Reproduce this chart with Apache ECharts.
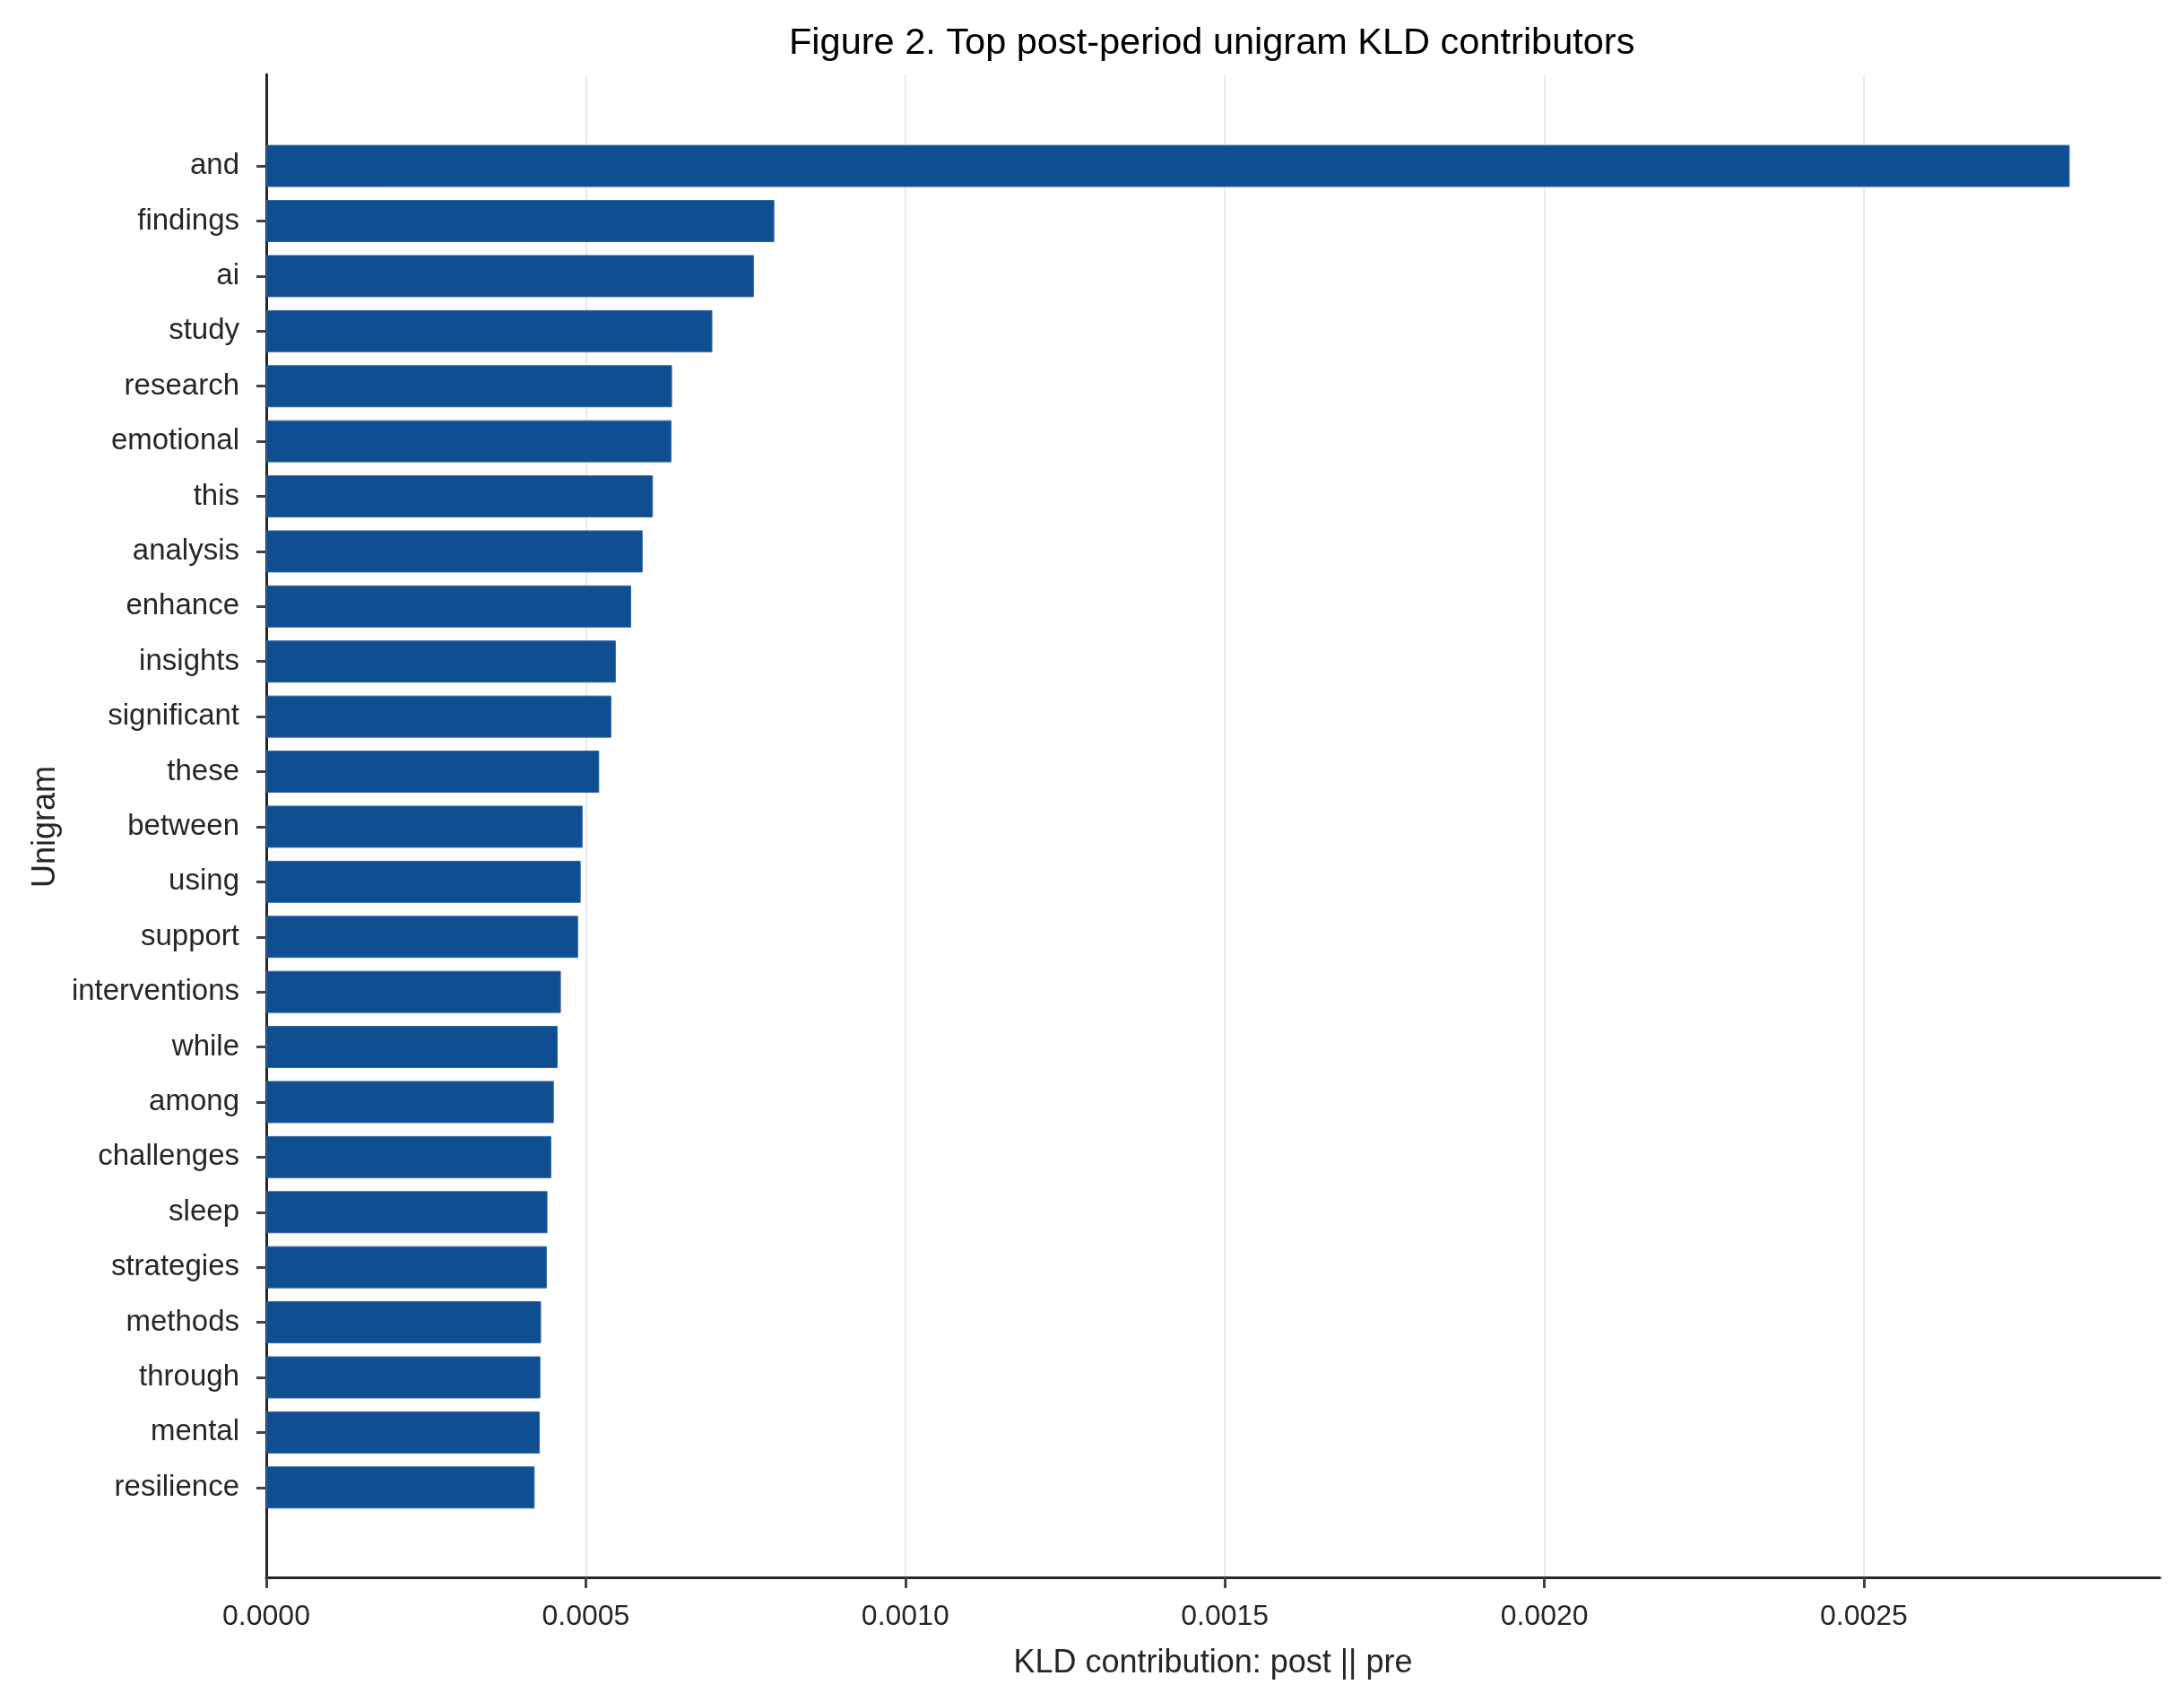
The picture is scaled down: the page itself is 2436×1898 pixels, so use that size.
<!DOCTYPE html>
<html>
<head>
<meta charset="utf-8">
<script src="https://cdn.jsdelivr.net/npm/echarts@6/dist/echarts.min.js"></script>
<style>
  html, body { margin: 0; padding: 0; background: #ffffff; }
  #chart { width: 2436px; height: 1898px; }
</style>
</head>
<body>
<div id="chart"></div>
<script>
// ---- data ----
const categories = [
  'and', 'findings', 'ai', 'study', 'research', 'emotional', 'this', 'analysis',
  'enhance', 'insights', 'significant', 'these', 'between', 'using', 'support',
  'interventions', 'while', 'among', 'challenges', 'sleep', 'strategies',
  'methods', 'through', 'mental', 'resilience'
];
const kldValues = [
  0.002822, 0.000795, 0.000763, 0.000698, 0.000635, 0.000634, 0.000605, 0.000589,
  0.000571, 0.000547, 0.000540, 0.000521, 0.000495, 0.000492, 0.000488,
  0.000461, 0.000456, 0.000450, 0.000446, 0.000440, 0.000439,
  0.000430, 0.000429, 0.000428, 0.000420
];
const xTicks = [0, 0.0005, 0.0010, 0.0015, 0.0020, 0.0025];
const xMax = 0.002963;

const FONT = '"Liberation Sans", Arial, Helvetica, sans-serif';
const TXT = '#262626';

const chart = echarts.init(document.getElementById('chart'), null, { renderer: 'canvas' });

const option = {
  backgroundColor: '#ffffff',
  animation: false,
  textStyle: { fontFamily: FONT },
  title: {
    text: 'Figure 2. Top post-period unigram KLD contributors',
    left: 880,
    top: 28,
    padding: 0,
    textStyle: { fontFamily: FONT, fontSize: 41.5, fontWeight: 'normal', color: '#000000' }
  },
  grid: [
    { left: 297, right: 27, top: 83, bottom: 139, containLabel: false },
    { left: 297, right: 27, top: 154.4, bottom: 208.5, containLabel: false }
  ],
  xAxis: [
    {
      gridIndex: 0, type: 'value', min: 0, max: xMax, interval: 0.0005,
      name: 'KLD contribution: post || pre', nameLocation: 'middle', nameGap: 78,
      nameTextStyle: { fontFamily: FONT, fontSize: 36, color: TXT },
      axisLine: { show: true, onZero: false, lineStyle: { color: TXT, width: 3 } },
      axisTick: { show: true, length: 12, customValues: xTicks, lineStyle: { color: '#444444', width: 3 } },
      axisLabel: {
        show: true, margin: 28, fontSize: 32, color: TXT, fontFamily: FONT,
        customValues: xTicks,
        formatter: v => v.toFixed(4)
      },
      splitLine: { show: true, showMinLine: false, lineStyle: { color: '#ebebeb', width: 2 } }
    },
    {
      gridIndex: 1, type: 'value', min: 0, max: xMax, show: false,
      splitLine: { show: false }
    }
  ],
  yAxis: [
    {
      gridIndex: 0, type: 'value', min: 0, max: 1,
      axisLine: { show: true, lineStyle: { color: TXT, width: 3 } },
      axisTick: { show: false }, axisLabel: { show: false }, splitLine: { show: false }
    },
    {
      gridIndex: 1, type: 'category', data: categories, inverse: true,
      name: 'Unigram', nameLocation: 'middle', nameGap: 228, nameRotate: 90,
      nameTextStyle: { fontFamily: FONT, fontSize: 36, color: TXT },
      axisLine: { show: false },
      axisTick: { show: true, alignWithLabel: true, length: 11, lineStyle: { color: '#444444', width: 3 } },
      axisLabel: { show: true, margin: 30, fontSize: 33, color: TXT, fontFamily: FONT, padding: [8, 0, 0, 0] },
      splitLine: { show: false }
    }
  ],
  series: [
    {
      type: 'bar',
      xAxisIndex: 1, yAxisIndex: 1,
      data: kldValues,
      barCategoryGap: '23.5%',
      itemStyle: { color: '#0f4f91', borderColor: '#3566a3', borderWidth: 1 }
    }
  ]
};

chart.setOption(option);
</script>
</body>
</html>
